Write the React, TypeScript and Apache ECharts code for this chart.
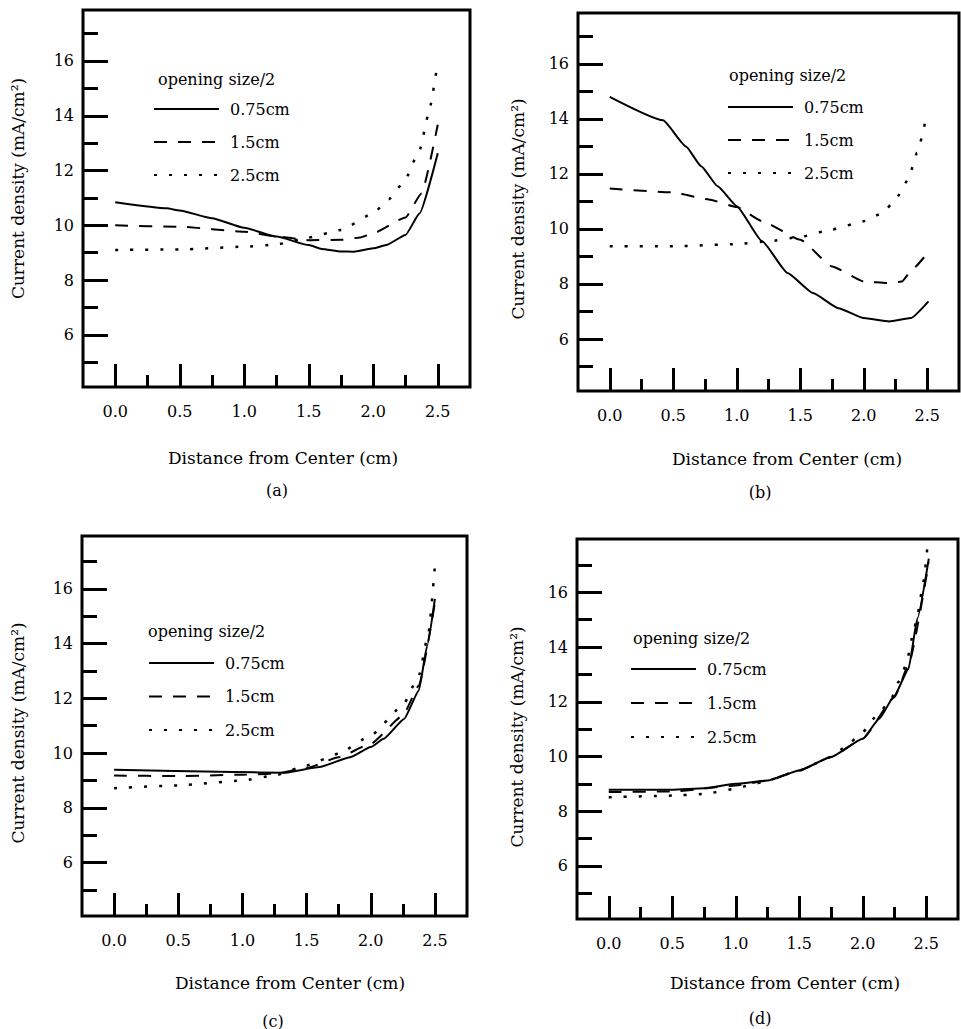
import React, { useEffect, useRef } from 'react';
import * as echarts from 'echarts';

// ---- data (x in cm, y in mA/cm²) ----
const seriesNames = ['0.75cm', '1.5cm', '2.5cm'];
const panelLabels = ['(a)', '(b)', '(c)', '(d)'];
const xMajorTicks = [0, 0.5, 1, 1.5, 2, 2.5];
const xMinorTicks = [0.25, 0.75, 1.25, 1.75, 2.25];
const yMajorTicks = [6, 8, 10, 12, 14, 16];
const yMinorTicks = [5, 7, 9, 11, 13, 15, 17];
const xRange = [-0.25, 2.75];
const yRanges = [
  [4.1, 17.86],
  [4.11, 17.85],
  [4.05, 17.93],
  [4.06, 17.95],
];

const a075 = [[0, 10.84], [0.4, 10.62], [0.5, 10.54], [0.75, 10.26], [1.0, 9.91], [1.25, 9.59], [1.5, 9.28], [1.6, 9.14], [1.75, 9.05], [1.85, 9.04], [2.0, 9.16], [2.1, 9.28], [2.25, 9.65], [2.36, 10.44], [2.5, 12.63]];
const a15 = [[0, 10.0], [0.5, 9.95], [1.0, 9.77], [1.25, 9.59], [1.5, 9.46], [1.75, 9.47], [1.9, 9.56], [2.0, 9.71], [2.25, 10.29], [2.375, 11.17], [2.5, 13.67]];
const a25 = [[0, 9.1], [0.5, 9.12], [1.0, 9.22], [1.25, 9.3], [1.5, 9.56], [1.75, 9.83], [2.0, 10.44], [2.12, 10.95], [2.24, 11.6], [2.36, 12.76], [2.43, 14.1], [2.495, 15.8]];

const b075 = [[0, 14.8], [0.42, 13.95], [0.6, 13.0], [0.72, 12.28], [0.85, 11.55], [1.0, 10.83], [1.2, 9.55], [1.4, 8.4], [1.6, 7.67], [1.8, 7.12], [2.0, 6.76], [2.2, 6.64], [2.37, 6.76], [2.51, 7.37]];
const b15 = [[0, 11.47], [0.5, 11.33], [0.78, 11.07], [1.0, 10.8], [1.2, 10.28], [1.5, 9.61], [1.75, 8.64], [2.0, 8.09], [2.2, 8.03], [2.3, 8.09], [2.38, 8.52], [2.48, 9.0]];
const b25 = [[0, 9.37], [0.5, 9.37], [1.0, 9.45], [1.25, 9.55], [1.5, 9.71], [1.75, 9.98], [2.0, 10.28], [2.15, 10.58], [2.25, 11.07], [2.35, 11.8], [2.42, 12.77], [2.5, 14.22]];

const c075 = [[0, 9.39], [0.93, 9.31], [1.32, 9.28], [1.6, 9.49], [1.84, 9.85], [2.0, 10.22], [2.1, 10.52], [2.26, 11.25], [2.375, 12.29], [2.44, 13.93], [2.5, 15.63]];
const c15 = [[0, 9.18], [0.5, 9.16], [1.0, 9.21], [1.25, 9.25], [1.5, 9.45], [1.75, 9.85], [2.0, 10.34], [2.25, 11.37], [2.375, 12.47], [2.5, 15.5]];
const c25 = [[0, 8.72], [0.5, 8.82], [1.0, 9.0], [1.25, 9.18], [1.5, 9.55], [1.75, 9.98], [2.0, 10.64], [2.25, 11.74], [2.375, 12.83], [2.45, 14.4], [2.5, 16.85]];

const d075 = [[0, 8.78], [0.5, 8.78], [0.75, 8.84], [1.0, 9.0], [1.25, 9.12], [1.5, 9.49], [1.75, 9.98], [2.0, 10.65], [2.13, 11.38], [2.25, 12.23], [2.36, 13.2], [2.43, 15.04], [2.52, 17.23]];
const d15 = [[0, 8.7], [0.5, 8.72], [1.0, 8.94], [1.25, 9.12], [1.5, 9.49], [1.75, 9.98], [2.0, 10.65], [2.25, 12.17], [2.36, 13.33], [2.52, 17.1]];
const d25 = [[0, 8.51], [0.5, 8.57], [0.75, 8.63], [1.0, 8.82], [1.1, 8.94], [1.25, 9.12], [1.5, 9.49], [1.75, 9.98], [1.86, 10.34], [2.0, 10.89], [2.11, 11.5], [2.22, 12.05], [2.28, 12.72], [2.34, 13.33], [2.4, 14.55], [2.43, 15.16], [2.48, 16.44], [2.51, 17.72]];

const panelData = [
  [a075, a15, a25],
  [b075, b15, b25],
  [c075, c15, c25],
  [d075, d15, d25],
];

// ---- layout ----
const FONT = 'DejaVu Serif';
const layout = [
  { grid: [83, 10, 387, 377], legend: [153, 100], gap: 15, head: [158, 79], label: [277, 490], xGap: 62, xPad: 13, yGap: 57, yPad: [0, 0, 0, 20] },
  { grid: [578, 13, 381, 378], legend: [727, 98], gap: 15, head: [729, 75], label: [760, 492], xGap: 59, xPad: 37, yGap: 52, yPad: [0, 14, 0, 0] },
  { grid: [82, 536, 385, 380], legend: [148, 654], gap: 15.5, head: [148, 631], label: [273, 1021], xGap: 58, xPad: 31, yGap: 56, yPad: [0, 14, 0, 0] },
  { grid: [577, 539, 381, 380], legend: [630, 660], gap: 16, head: [633, 638], label: [760, 1018], xGap: 55, xPad: 35, yGap: 52, yPad: [0, 16, 0, 0] },
];
const lineTypes: any[] = ['solid', [13, 11], [3, 12]];

export default function App() {
  const ref = useRef<HTMLDivElement>(null);
  useEffect(() => {
    if (!ref.current) return;
    const chart = echarts.init(ref.current, undefined, { renderer: 'svg' });
    const grids: any[] = [];
    const xAxes: any[] = [];
    const yAxes: any[] = [];
    const series: any[] = [];
    const legends: any[] = [];
    const graphics: any[] = [];
    layout.forEach((L, i) => {
      const [left, top, width, height] = L.grid;
      grids.push({ left, top, width, height, show: true, borderColor: '#000', borderWidth: 3, backgroundColor: 'transparent' });
      const baseX = {
        type: 'value', gridIndex: i, min: xRange[0], max: xRange[1], position: 'bottom', offset: 0,
        axisLine: { show: false, onZero: false }, splitLine: { show: false },
      };
      xAxes.push({
        ...baseX,
        name: 'Distance from Center (cm)', nameLocation: 'middle', nameGap: L.xGap,
        nameTextStyle: { fontFamily: FONT, fontSize: 17, color: '#000', padding: [0, 0, 0, L.xPad] },
        axisTick: { show: true, inside: true, length: 23, customValues: xMajorTicks, lineStyle: { color: '#000', width: 3 } },
        axisLabel: { show: true, customValues: xMajorTicks, margin: 16, fontFamily: FONT, fontSize: 16, color: '#000', formatter: (v: number) => v.toFixed(1) },
      });
      xAxes.push({
        ...baseX,
        axisTick: { show: true, inside: true, length: 12, customValues: xMinorTicks, lineStyle: { color: '#000', width: 3 } },
        axisLabel: { show: false },
      });
      const baseY = {
        type: 'value', gridIndex: i, min: yRanges[i][0], max: yRanges[i][1], position: 'left', offset: 0,
        axisLine: { show: false, onZero: false }, splitLine: { show: false },
      };
      yAxes.push({
        ...baseY,
        name: 'Current density (mA/cm²)', nameLocation: 'middle', nameGap: L.yGap, nameRotate: 90,
        nameTextStyle: { fontFamily: FONT, fontSize: 17, color: '#000', padding: L.yPad },
        axisTick: { show: true, inside: true, length: 25, customValues: yMajorTicks, lineStyle: { color: '#000', width: 3 } },
        axisLabel: { show: true, customValues: yMajorTicks, margin: 9, fontFamily: FONT, fontSize: 16, color: '#000' },
      });
      yAxes.push({
        ...baseY,
        axisTick: { show: true, inside: true, length: 15, customValues: yMinorTicks, lineStyle: { color: '#000', width: 3 } },
        axisLabel: { show: false },
      });
      panelData[i].forEach((d, k) => {
        series.push({
          type: 'line', name: seriesNames[k], data: d, xAxisIndex: 2 * i, yAxisIndex: 2 * i,
          symbol: 'none', smooth: 0.15, smoothMonotone: 'x', silent: true,
          lineStyle: { color: '#000', width: k === 2 ? 2.5 : 2, type: lineTypes[k] },
          itemStyle: { color: '#000' },
        });
      });
      legends.push({
        show: true, orient: 'vertical', left: L.legend[0], top: L.legend[1], padding: 0,
        itemWidth: 65, itemHeight: 14, itemGap: L.gap, selectedMode: false,
        data: seriesNames,
        itemStyle: { opacity: 0, color: 'transparent', borderWidth: 0 },
        textStyle: { fontFamily: FONT, fontSize: 16, color: '#000', lineHeight: 18, padding: [0, 0, 0, 6] },
      });
      graphics.push({
        type: 'text', x: L.head[0], y: L.head[1],
        style: { text: 'opening size/2', font: `16px "${FONT}"`, fill: '#000', textAlign: 'left', textVerticalAlign: 'middle' },
      });
      graphics.push({
        type: 'text', x: L.label[0], y: L.label[1],
        style: { text: panelLabels[i], font: `16px "${FONT}"`, fill: '#000', textAlign: 'center', textVerticalAlign: 'middle' },
      });
    });
    chart.setOption({
      animation: false,
      backgroundColor: '#fff',
      grid: grids,
      xAxis: xAxes,
      yAxis: yAxes,
      legend: legends,
      series,
      graphic: graphics,
    });
    return () => chart.dispose();
  }, []);
  return <div ref={ref} style={{ position: 'fixed', left: 0, top: 0, width: 961, height: 1029, background: '#fff' }} />;
}
